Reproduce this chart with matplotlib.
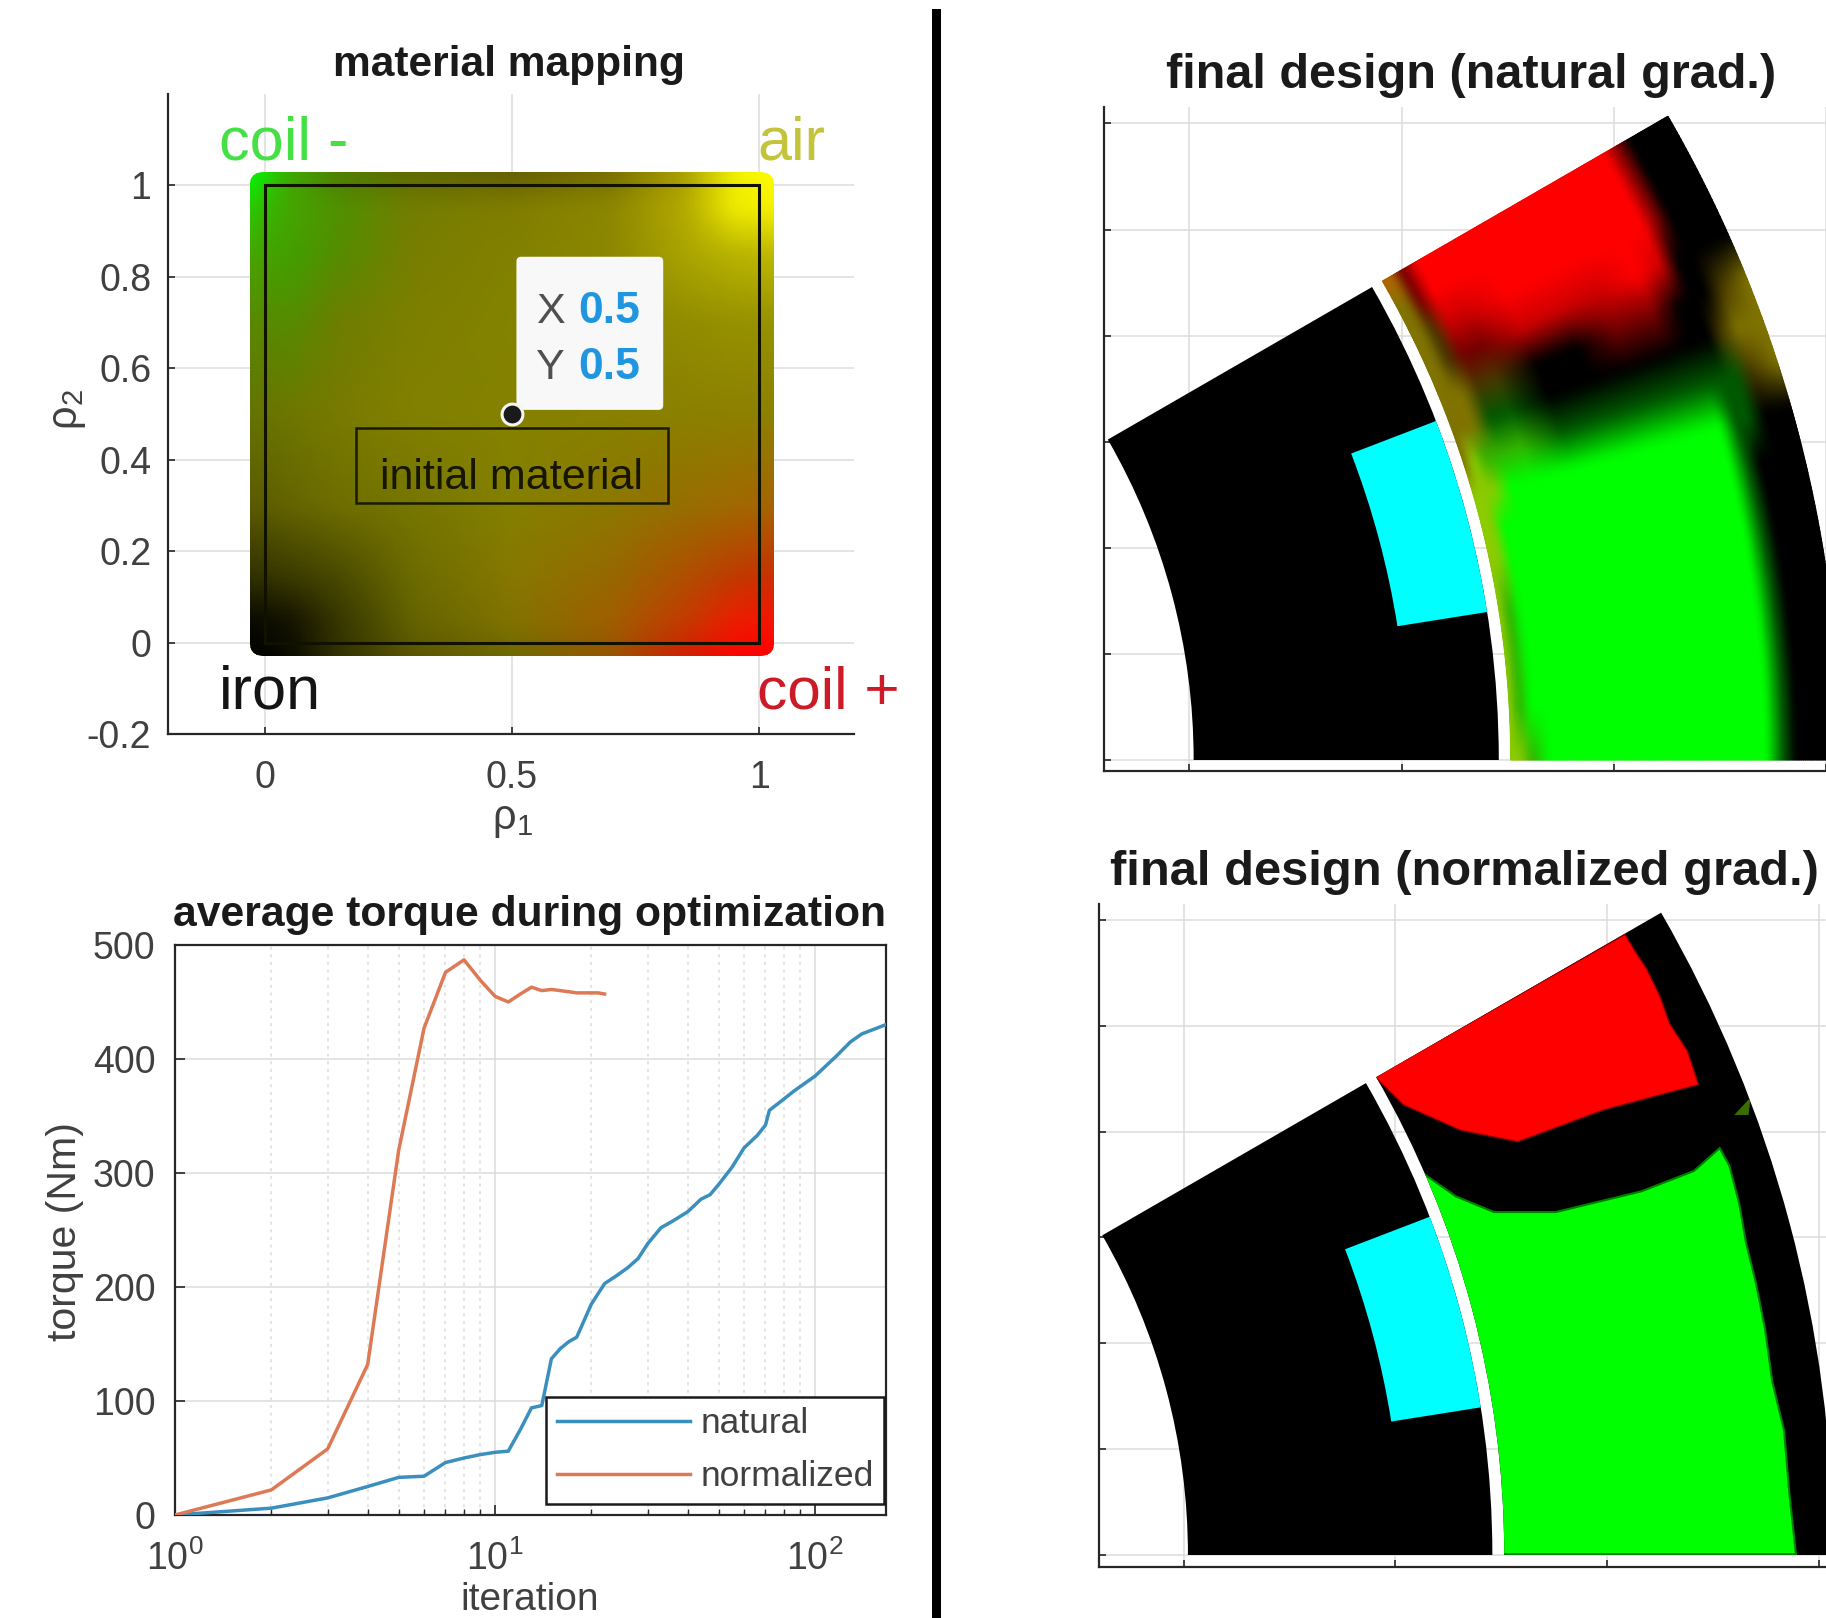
import numpy as np
import matplotlib
matplotlib.use("Agg")
import matplotlib.pyplot as plt
from matplotlib.patches import Wedge, Polygon, Rectangle, FancyBboxPatch

W, H = 1826, 1618
plt.rcParams['font.family'] = ['Liberation Sans', 'DejaVu Sans']
plt.rcParams['mathtext.fontset'] = 'custom'
plt.rcParams['mathtext.rm'] = 'Liberation Sans'
plt.rcParams['mathtext.it'] = 'Liberation Sans:italic'
plt.rcParams['mathtext.default'] = 'regular'

# ---------- data ----------
iter_natural = [1,2,3,4,5,6,7,8,9,10,11,12,13,14,15,16,17,18,20,22,24,26,28,30,33,36,40,44,47,50,55,60,66,70,72,80,86,100,116,129,140,166]
torque_natural = [0,6,15,25,33,34,46,50,53,55,56,75,94,96,137,146,152,156,185,203,210,217,225,238,252,258,266,277,281,290,305,322,333,342,355,365,372,385,402,415,422,430]
iter_normalized = list(range(1, 23))
torque_normalized = [0,22,58,132,320,427,476,487,469,455,450,457,463,460,461,460,459,458,458,458,458,457]

map_x = [-.03,.05,.15,.3,.5,.7,.85,.95,1.03]
map_y = [1.03,.95,.85,.7,.5,.3,.15,.05,-.03]
map_red = [[0,60,80,95,100,120,170,240,255],
           [40,70,80,115,128,140,180,240,245],
           [70,65,85,120,130,140,170,185,190],
           [90,85,110,125,132,138,145,150,150],
           [100,110,120,130,133,135,138,140,140],
           [90,100,110,118,132,140,150,160,165],
           [50,60,75,108,135,150,175,190,200],
           [10,20,55,100,130,160,195,235,245],
           [0,10,50,90,110,150,210,250,255]]
map_green = [[255,170,125,105,95,110,160,240,255],
             [200,165,145,125,125,135,170,235,240],
             [165,160,140,125,128,135,165,180,185],
             [135,140,125,127,130,134,140,145,145],
             [115,118,122,128,128,128,128,128,128],
             [90,100,110,118,128,120,110,105,100],
             [50,60,75,108,120,105,80,60,50],
             [10,20,55,100,115,95,60,30,20],
             [0,10,50,85,105,85,30,5,0]]

rotor_radii = [0.151, 0.2229]
stator_radii = [0.2257, 0.3034]
magnet_radii = [0.2015, 0.2229]
magnet_angles = [9, 21]
sector_angles = [0, 30]

field_r = [.2257,.228,.231,.235,.24,.25,.26,.27,.28,.286,.29,.293,.297,.3034]
field_theta = [0,3,6,9,12,14,16,18,20,22,24,26,28,30]
field_natural = ["LLLLLLLOOOOOOA",
                 "LHHHLLLLOOOOOA",
                 "HGGGGGLHOOBBMM",
                 "GGGGGGGHDBMTRR",
                 "GGGGGGGHDBMTRR",
                 "GGGGGGGDKKTRRR",
                 "GGGGGGGDKKTRRR",
                 "GGGGGGGDKMTRRR",
                 "GGGGGGGDKMRRRR",
                 "GGGGGGGDKKTRRR",
                 "DDDDDDDDKKKMMM",
                 "KKKKKKDDBKKKKK",
                 "KKKKKKKBOBKKKK",
                 "KKKKKKKOOOKKKK"]
field_colors = {'K':(0,0,0),'R':(1,0,0),'G':(0,1,0),'O':(.5,.45,0),'L':(.55,.8,0),
                'D':(0,.35,0),'M':(.45,0,0),'T':(.8,0,0),'H':(.2,.7,0),'B':(.28,.22,0),'A':(.7,.4,0)}

red_x = [.1952,.2542,.2570,.2592,.2625,.2648,.2690,.2716,.2491,.2289,.2154,.2019]
red_y = [.1129,.1466,.1420,.1387,.1320,.1255,.1190,.1111,.1051,.0976,.1003,.1063]
green_x = [.2066,.2143,.2233,.2379,.2581,.2705,.2766,.2789,.2812,.2828,.2852,.2873,.2890,.2918,.2930,.2946,.2000,.2000]
green_y = [.0901,.0847,.0810,.0810,.0859,.0907,.0961,.0919,.0830,.0738,.0640,.0534,.0410,.0294,.0150,.0002,.0002,.0901]
fleck_x = [.2800,.2839,.2834]
fleck_y = [.1039,.1081,.1039]

# ---------- helpers ----------
fig = plt.figure(figsize=(W/100, H/100), dpi=100, facecolor='white')

def ax_px(l, t, r, b):
    return fig.add_axes([l/W, 1-b/H, (r-l)/W, (b-t)/H])

def ftext(x, y, s, **kw):
    return fig.text(x/W, 1-y/H, s, **kw)

DARK = '#262626'
TICK = '#404040'
GRID = '#dcdcdc'

def style(ax, sides=('left','bottom')):
    for s in ax.spines:
        ax.spines[s].set_visible(s in sides)
        ax.spines[s].set_color(DARK)
        ax.spines[s].set_linewidth(1.6)
    ax.set_axisbelow(True)
    ax.grid(True, color=GRID, lw=1.1)

def refine(table, src_a, src_b, n_a, n_b):
    t = np.asarray(table, float)
    a = np.linspace(src_a[0], src_a[-1], n_a)
    b = np.linspace(src_b[0], src_b[-1], n_b)
    sa, sb = np.asarray(src_a, float), np.asarray(src_b, float)
    if sa[0] > sa[-1]:
        sa_use, t_use = sa[::-1], t[::-1]
    else:
        sa_use, t_use = sa, t
    tmp = np.array([np.interp(b, sb, row) for row in t_use])
    out = np.array([np.interp(np.sort(a), sa_use, col) for col in tmp.T]).T
    if sa[0] > sa[-1]:
        out = out[::-1]
    return a, b, out

def soften(img, n):
    k = np.ones(n)/n
    pad = n//2
    out = np.pad(img, pad, mode='edge')
    out = np.apply_along_axis(lambda v: np.convolve(v, k, mode='same'), 0, out)
    out = np.apply_along_axis(lambda v: np.convolve(v, k, mode='same'), 1, out)
    return out[pad:-pad, pad:-pad]

# ---------- material mapping ----------
ax = ax_px(168, 94, 854, 734)
style(ax)
ax.set_xlim(-0.196, 1.192)
ax.set_ylim(-0.2, 1.2)
ax.set_xticks([0, .5, 1]); ax.set_xticklabels(['0', '0.5', '1'])
ax.set_yticks([-.2, 0, .2, .4, .6, .8, 1])
ax.set_yticklabels(['-0.2', '0', '0.2', '0.4', '0.6', '0.8', '1'])
ax.tick_params(axis='x', direction='in', length=5, width=1.2, color=DARK, labelcolor=TICK, labelsize=27, pad=19)
ax.tick_params(axis='y', direction='in', length=5, width=1.2, color=DARK, labelcolor=TICK, labelsize=27, pad=12)
ya, xb, R = refine(map_red, map_y, map_x, 120, 120)
_, _, G = refine(map_green, map_y, map_x, 120, 120)
XX, YY = np.meshgrid(xb, ya)
rgb = np.dstack([soften(R, 5)/255, soften(G, 5)/255, np.zeros_like(R)])
mesh = ax.pcolormesh(XX, YY, rgb, shading='gouraud', zorder=2)
clip = FancyBboxPatch((-.005, -.005), 1.01, 1.01, boxstyle='round,pad=0.025,rounding_size=0.03',
                      transform=ax.transData, fc='none', ec='none')
ax.add_patch(clip)
mesh.set_clip_path(clip)
ax.add_patch(Rectangle((0, 0), 1, 1, fc='none', ec='#111100', lw=2.2, zorder=3))
ax.add_patch(Rectangle((.184, .306), .632, .163, fc='none', ec='#1a1a00', lw=1.8, zorder=3))
ax.text(.5, .335, 'initial material', ha='center', va='baseline', fontsize=31, color='#151500', zorder=4)
ax.add_patch(FancyBboxPatch((.515, .515), .285, .323, boxstyle='round,pad=0.006,rounding_size=0.01',
                            fc='#f8f8f8', ec='none', zorder=4))
ax.plot([.5], [.5], 'o', ms=15, mfc='#1a1a1a', mec='#f4f4f0', mew=2.2, zorder=5)
ax.text(.548, .698, 'X', fontsize=31, color='#505050', zorder=6)
ax.text(.548, .576, 'Y', fontsize=31, color='#505050', zorder=6)
ax.text(.635, .698, '0.5', fontsize=32, fontweight='bold', color='#2196e0', zorder=6)
ax.text(.635, .576, '0.5', fontsize=32, fontweight='bold', color='#2196e0', zorder=6)
ax.text(-.093, 1.057, 'coil -', fontsize=44, color='#44e044', zorder=6)
ax.text(.996, 1.057, 'air', fontsize=44, color='#c4c43c', zorder=6, clip_on=False)
ax.text(-.093, -.145, 'iron', fontsize=44, color='#141414', zorder=6)
ax.text(.996, -.145, 'coil +', fontsize=43.5, color='#cc1a26', zorder=6, clip_on=False)
ftext(512, 820, r'$\rho_{1}$', fontsize=30, color=TICK, ha='center', va='center')
ftext(68, 410, r'$\rho_{2}$', fontsize=30, color=TICK, ha='center', va='center', rotation=90)
ftext(509, 76, 'material mapping', fontsize=30.6, fontweight='bold', color='#1a1a1a', ha='center', va='baseline')

# ---------- torque ----------
ax = ax_px(175, 945, 885.5, 1515)
style(ax, sides=('left', 'bottom', 'right', 'top'))
ax.set_xscale('log')
ax.plot(iter_natural, torque_natural, color='#3a8fbe', lw=2.5, label='natural', zorder=3)
ax.plot(iter_normalized, torque_normalized, color='#dd7a55', lw=2.5, label='normalized', zorder=3)
ax.set_xlim(1, 166)
ax.set_ylim(0, 500)
ax.set_yticks([0, 100, 200, 300, 400, 500])
ax.set_xticks([1, 10, 100])
ax.grid(True, which='minor', axis='x', color=GRID, lw=1.1, ls=(0, (2, 3)))
ax.tick_params(which='major', direction='in', length=7, width=1.2, color=DARK, labelcolor=TICK, labelsize=27)
ax.tick_params(which='minor', direction='in', length=4, width=1, color=DARK)
ax.tick_params(axis='x', which='major', pad=18)
ax.tick_params(axis='y', which='major', pad=14)
leg = ax.legend(loc='lower left', bbox_to_anchor=(0.5225, 0.02), fontsize=25.5, frameon=True, fancybox=False,
                framealpha=1, edgecolor='#1a1a1a', borderpad=0.3, labelspacing=0.55, handlelength=3.75,
                handletextpad=0.3, borderaxespad=0)
leg.get_frame().set_linewidth(1.8)
for t in leg.get_texts():
    t.set_color(TICK)
ftext(65, 1232, 'torque (Nm)', fontsize=29.5, color=TICK, ha='center', va='center', rotation=90)
ftext(530, 1610, 'iteration', fontsize=28, color=TICK, ha='center', va='baseline')
ftext(529, 926, 'average torque during optimization', fontsize=30.7, fontweight='bold', color='#1a1a1a', ha='center', va='baseline')

# ---------- designs ----------
def design_axes(l, t, b, x150, xgrid, y0, ygrid):
    ax = ax_px(l, t, W, b)
    style(ax)
    ppm = xgrid / 0.05
    ax.set_xlim(.15 + (l - x150)/ppm, .15 + (W - x150)/ppm)
    ax.set_ylim((y0 - b)/ppm, (y0 - t)/ppm)
    ax.set_xticks([.15, .2, .25, .3])
    ax.set_yticks(np.arange(0, .151, .025))
    ax.tick_params(direction='in', length=5, width=1.2, color=DARK, labelbottom=False, labelleft=False)
    ax.add_patch(Wedge((0, 0), rotor_radii[1], *sector_angles, width=rotor_radii[1]-rotor_radii[0], fc='black', ec='none', zorder=2))
    ax.add_patch(Wedge((0, 0), magnet_radii[1], *magnet_angles, width=magnet_radii[1]-magnet_radii[0], fc='#00ffff', ec='none', zorder=3))
    stator = Wedge((0, 0), stator_radii[1], *sector_angles, width=stator_radii[1]-stator_radii[0], fc='black', ec='none', zorder=2)
    ax.add_patch(stator)
    return ax, stator

ax, stator = design_axes(1104, 107, 771, 1189.4, 212.2, 760, 106.1)
table = np.array([[field_colors[c] for c in row] for row in field_natural], float)
chan = []
for k in range(3):
    rr, tt, c = refine(table[:, :, k], field_r, field_theta, 180, 180)
    chan.append(soften(c, 5))
TT, RR = np.meshgrid(np.radians(tt), rr)
ax.pcolormesh(RR*np.cos(TT), RR*np.sin(TT), np.clip(np.dstack(chan), 0, 1), shading='gouraud', zorder=2.5)
ftext(1471, 88, 'final design (natural grad.)', fontsize=35, fontweight='bold', color='#1a1a1a', ha='center', va='baseline')

ax, stator = design_axes(1099, 904, 1567, 1183.7, 211.7, 1555, 105.85)
p = Polygon(np.column_stack([red_x, red_y]), fc='#ff0000', ec='#800000', lw=1, zorder=2.5)
ax.add_patch(p); p.set_clip_path(stator)
p = Polygon(np.column_stack([green_x, green_y]), fc='#00ff00', ec='#008000', lw=1.5, zorder=2.5)
ax.add_patch(p); p.set_clip_path(stator)
p = Polygon(np.column_stack([fleck_x, fleck_y]), fc='#3a6a00', ec='none', zorder=2.5)
ax.add_patch(p); p.set_clip_path(stator)
ftext(1464, 885, 'final design (normalized grad.)', fontsize=35.2, fontweight='bold', color='#1a1a1a', ha='center', va='baseline')

# ---------- divider ----------
fig.add_artist(Rectangle((932/W, 0), 9/W, 1-9/H, transform=fig.transFigure, fc='black', ec='none'))

fig.savefig('out.png', dpi=100, facecolor='white')
